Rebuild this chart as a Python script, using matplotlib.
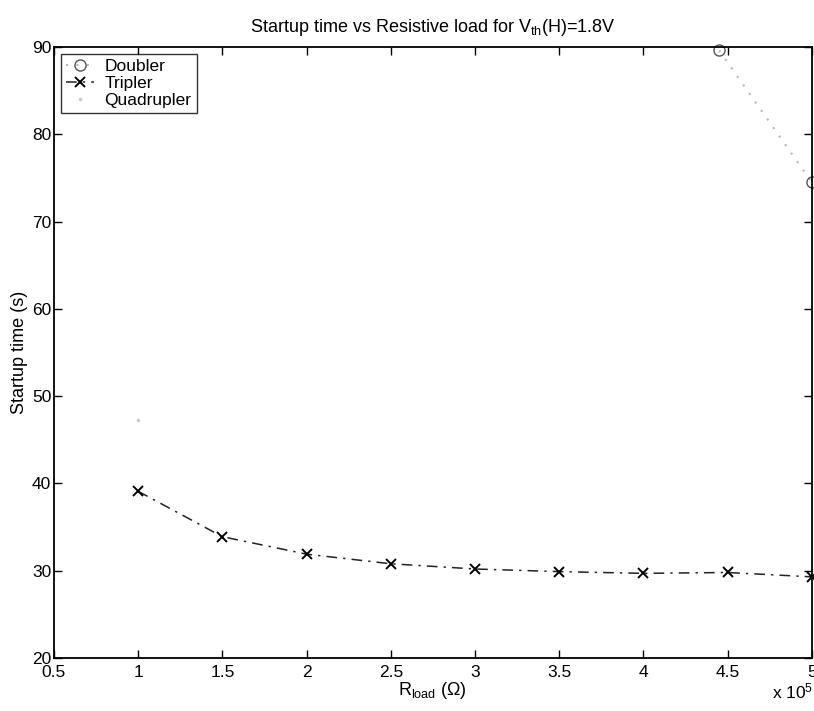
import numpy as np
import matplotlib
matplotlib.use("Agg")
import matplotlib.pyplot as plt

plt.rcParams['font.family'] = ['Liberation Sans', 'DejaVu Sans']
plt.rcParams['mathtext.fontset'] = 'custom'
plt.rcParams['mathtext.rm'] = 'Liberation Sans'
plt.rcParams['mathtext.it'] = 'Liberation Sans'

# data
r_tripler = [1.0e5, 1.5e5, 2.0e5, 2.5e5, 3.0e5, 3.5e5, 4.0e5, 4.5e5, 5.0e5]
t_tripler = [39.1, 33.9, 31.9, 30.8, 30.2, 29.9, 29.7, 29.8, 29.3]
r_doubler = [4.45e5, 5.0e5]
t_doubler = [89.6, 74.5]
r_quad = [1.0e5]
t_quad = [47.3]

scale = 1e5

fig = plt.figure(figsize=(8.14, 7.11), dpi=100)
ax = fig.add_axes([0.0663, 0.0745, 0.931, 0.8594])

ax.plot(np.array(r_doubler) / scale, t_doubler, linestyle=(0, (1, 4)), color='#b8b8b8',
        marker='o', markerfacecolor='none', markeredgecolor='#555555',
        markersize=8, label='Doubler', clip_on=False)
ax.plot(np.array(r_tripler) / scale, t_tripler, linestyle=(0, (7, 4, 1.5, 4)),
        color='#222222', linewidth=1.1, marker='x', markeredgecolor='black',
        markersize=7, markeredgewidth=1.4, label='Tripler', clip_on=False)
ax.plot(np.array(r_quad) / scale, t_quad, linestyle='none', marker='.',
        color='#c8c8c8', markersize=3, label='Quadrupler')

ax.set_xlim(0.5, 5)
ax.set_ylim(20, 90)
ax.set_xticks(np.arange(0.5, 5.01, 0.5))
ax.set_xticklabels(['0.5', '1', '1.5', '2', '2.5', '3', '3.5', '4', '4.5', '5'])
ax.set_yticks(np.arange(20, 91, 10))
ax.tick_params(direction='in', top=True, right=True, length=6, width=1,
               labelsize=12.5, pad=2)
ax.tick_params(axis='x', pad=5)
for s in ax.spines.values():
    s.set_linewidth(1.3)

ax.set_title('Startup time vs Resistive load for V$_{\\rm th}$(H)=1.8V',
             fontsize=13, pad=11)
ax.set_xlabel('R$_{\\rm load}$ ($\\Omega$)', fontsize=13, labelpad=0)
ax.set_ylabel('Startup time (s)', fontsize=13, labelpad=3)
fig.text(0.999, 0.013, 'x 10$^5$', fontsize=12.5, ha='right', va='bottom')

leg = ax.legend(loc='upper left', fontsize=12.5, frameon=True, fancybox=False,
                edgecolor='black', borderaxespad=0.4, handlelength=1.6,
                handletextpad=0.6, borderpad=0.3, labelspacing=0.1)
leg.get_frame().set_linewidth(1.0)

fig.savefig('out.png', dpi=100)
